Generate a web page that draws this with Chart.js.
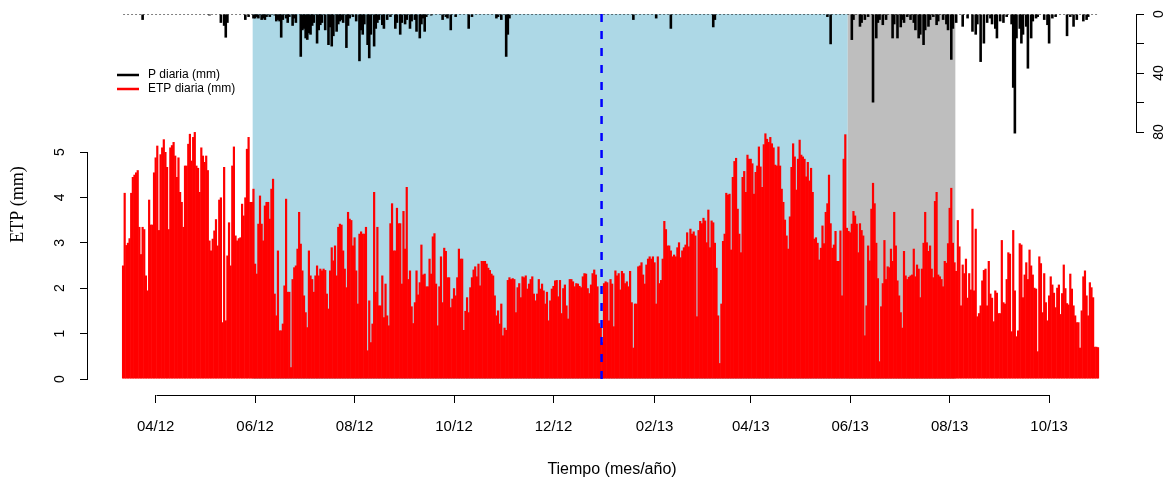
<!DOCTYPE html>
<html>
<head>
<meta charset="utf-8">
<script src="https://cdn.jsdelivr.net/npm/chart.js@4.4.0/dist/chart.umd.min.js"></script>
<style>
  html, body { margin: 0; padding: 0; background: #fff; }
</style>
</head>
<body>
<canvas id="etpcanvas" width="1176" height="479"></canvas>
<script>
// first day of the series, one value per day after it
var startDate = '2012-03-12';

// ETP diaria (mm)
var etp = [
  2.5, 4.1, 2.95, 3.0, 3.1, 4.1, 4.45, 4.5, 4.55, 4.6, 3.35, 2.75, 3.35, 3.3, 2.28, 1.95, 3.95, 3.4, 3.4, 4.55,
  4.88, 5.14, 3.28, 4.95, 5.1, 5.28, 5.0, 4.67, 3.3, 5.1, 5.15, 5.22, 4.92, 4.45, 4.88, 4.12, 3.9, 3.35, 4.7, 4.7,
  5.18, 5.4, 4.81, 5.33, 5.44, 4.7, 4.65, 4.12, 5.1, 4.92, 4.78, 4.92, 4.6, 3.05, 2.83, 3.09, 3.27, 3.52, 2.94, 3.95,
  4.0, 1.25, 4.67, 1.29, 2.72, 3.45, 2.5, 4.7, 5.12, 3.16, 3.05, 3.1, 3.12,
  3.86, 3.6, 4.0, 5.07, 5.33, 3.9, 3.9, 4.19, 2.54, 2.32, 3.42, 4.04, 3.42, 3.05, 3.82, 3.9, 3.9, 3.53, 4.19, 4.41,
  1.88, 1.4, 2.83, 1.07, 1.07, 1.22, 2.06, 3.97, 1.92, 1.92, 0.26, 2.2, 2.46, 2.5, 2.87, 3.68, 2.98, 2.39, 1.84, 1.47,
  1.14, 2.83, 2.28, 2.2, 1.92, 2.28, 2.5, 2.28, 2.43, 2.39, 2.43, 2.4, 1.88, 1.55, 2.39, 2.9, 2.61, 2.94, 2.28, 3.35,
  3.42, 3.4, 2.83, 2.43, 2.02, 3.68, 3.53, 3.5, 2.94, 3.12, 2.39, 1.66, 3.2, 3.25, 3.2,
  3.2, 3.35, 0.63, 1.73, 0.81, 1.22, 4.12, 1.92, 3.35, 1.62, 1.62, 2.28, 1.36, 2.1, 1.4, 1.18, 3.43, 3.87, 2.83, 2.83,
  3.77, 3.43, 3.43, 2.1, 3.7, 2.87, 4.23, 2.2, 2.39, 1.6, 1.23, 1.69, 2.39, 1.86, 2.13, 2.96, 2.3, 2.32, 2.04, 2.04,
  2.65, 2.32, 3.14, 3.21, 2.1, 1.18, 2.04, 2.7, 1.69, 2.89, 2.82, 2.24, 2.24, 1.58, 1.77, 2.0, 1.84, 2.24, 2.87, 2.65,
  2.65, 1.08, 1.5, 1.8, 1.47, 2.02, 2.24, 2.41, 2.48, 2.26, 2.54, 2.06, 2.6, 2.6, 2.6,
  2.54, 2.45, 2.4, 2.32, 2.28, 1.84, 1.4, 1.51, 1.22, 1.66, 0.96, 1.13, 1.08, 2.18, 2.24, 2.2, 2.22, 2.2, 1.47, 2.02,
  2.11, 1.8, 2.26, 2.24, 2.28, 1.99, 2.1, 2.2, 2.26, 1.88, 1.73, 1.88, 2.2, 1.99, 2.1, 1.95, 1.66, 1.92, 1.29, 1.73,
  1.99, 2.05, 2.17, 2.18, 1.82, 2.18, 1.45, 2.0, 2.08, 1.62, 1.33, 2.2, 2.2, 2.15, 2.04, 2.11, 2.1, 2.05, 2.02, 2.26,
  2.33, 2.32, 2.0, 1.89, 2.08, 2.33, 2.41, 2.3, 2.04, 1.23, 1.14, 0.81, 2.11, 2.15, 2.13,
  1.29, 2.2, 2.1, 1.16, 2.39, 2.28, 2.33, 1.97, 2.38, 2.33, 2.11, 2.15, 2.04, 2.38, 1.69, 0.69, 1.66, 1.66, 2.48, 2.5,
  2.57, 2.3, 2.1, 2.52, 2.65, 2.7, 2.65, 2.7, 2.57, 1.66, 2.7, 2.11, 2.18, 2.65, 3.48, 3.3, 2.94, 2.94, 2.83, 2.7,
  2.74, 2.7, 2.9, 3.01, 2.68, 2.83, 2.9, 2.96, 3.23, 2.92, 3.31, 3.2, 3.25, 3.16, 1.38, 3.28, 3.48, 3.43, 3.55, 3.49,
  3.01, 3.73, 2.9, 3.49, 3.45, 3.0, 2.45, 1.4, 0.35, 1.66, 3.04, 3.2, 4.1, 4.06, 4.08,
  2.85, 4.45, 4.8, 4.87, 3.75, 3.2, 2.79, 4.45, 4.58, 4.12, 4.94, 4.85, 4.85, 4.75, 4.08, 4.56, 4.7, 5.12, 4.68, 4.23,
  5.17, 5.41, 5.29, 5.22, 5.33, 5.19, 5.1, 4.72, 4.7, 5.12, 4.7, 4.19, 3.9, 3.51, 3.16, 2.87, 3.58, 4.67, 5.19, 4.9,
  4.17, 4.85, 5.27, 4.94, 4.9, 4.85, 4.46, 4.78, 4.37, 4.65, 4.12, 3.09, 3.12, 3.0, 2.63, 2.89, 3.38, 2.99, 3.68, 3.87,
  4.5, 3.43, 2.89, 2.96, 3.26, 2.6, 2.6, 3.27, 1.84, 4.85, 5.39, 3.33, 3.26, 3.23, 3.42,
  3.7, 3.6, 3.42, 2.79, 3.43, 3.28, 3.16, 0.96, 1.62, 2.94, 2.61, 3.75, 4.32, 3.87, 3.0, 2.22, 0.39, 1.6, 2.11, 3.06,
  2.2, 2.48, 2.46, 2.87, 2.6, 3.68, 2.94, 2.17, 1.84, 1.47, 1.13, 2.82, 2.28, 2.2, 2.25, 2.28, 2.3, 2.87, 2.26, 2.52,
  2.43, 1.8, 2.43, 3.0, 3.68, 3.01, 2.82, 2.94, 2.43, 2.24, 3.92, 4.12, 2.3, 2.26, 2.2, 2.04, 2.6, 2.56, 2.99, 3.77,
  4.21, 3.0, 2.57, 2.38, 3.5, 2.92, 1.62, 2.52, 2.33, 2.65, 1.79, 2.33, 1.97, 3.75, 1.95,
  3.31, 1.38, 1.45, 1.62, 2.17, 2.4, 2.43, 1.62, 2.6, 1.88, 1.79, 1.27, 1.95, 1.9, 1.45, 1.45, 3.06, 1.69, 1.66, 2.2,
  2.79, 2.76, 1.05, 3.28, 1.95, 0.94, 1.07, 2.99, 2.96, 1.8, 2.3, 2.57, 2.2, 2.85, 2.5, 2.3, 2.01, 1.99, 0.61, 2.7,
  2.55, 1.47, 2.33, 1.69, 1.29, 1.84, 2.26, 2.08, 1.9, 1.58, 2.01, 2.08, 1.43, 1.89, 2.52, 2.0, 1.67, 1.64, 2.32, 1.99,
  1.62, 1.4, 1.25, 1.25, 0.69, 1.51, 2.26, 2.39, 1.84, 1.4, 2.13, 2.02, 1.8, 0.71, 0.71, 0.7
];

// P diaria (mm): day number (from startDate) and amount, rainy days only
var precipDay = [
  12, 53, 60, 62, 63, 64, 75, 77, 80, 81, 82, 83, 85, 86, 87, 88, 90, 93, 94, 95,
  96, 97, 98, 100, 101, 102, 104, 105, 106, 109, 110, 111, 112, 113, 114, 115, 116, 117, 119, 120,
  121, 122, 124, 126, 127, 128, 129, 131, 132, 133, 134, 135, 137, 138, 139, 141, 143, 145, 146, 147,
  148, 150, 151, 152, 154, 155, 156, 157, 159, 160, 162, 164, 167, 168, 170, 171, 173, 174, 176, 177,
  179, 180, 182, 183, 184, 185, 186, 189, 196, 198, 199, 201, 204, 212, 214, 229, 230, 232, 235, 236,
  237, 313, 327, 336, 362, 363, 432, 434, 447, 448, 452, 453, 455, 457, 460, 462, 463, 464, 466, 468,
  472, 473, 475, 477, 478, 479, 481, 483, 485, 486, 488, 489, 491, 492, 494, 495, 497, 499, 500, 503,
  505, 506, 508, 509, 511, 515, 518, 521, 523, 524, 526, 528, 530, 532, 533, 535, 536, 538, 540, 542,
  545, 546, 547, 548, 550, 551, 552, 554, 555, 557, 558, 560, 561, 565, 567, 568, 570, 572, 579, 581,
  583, 585, 589, 591, 592
];
var precipMm = [
  4, 1, 6, 8, 16, 6, 4, 2, 3, 3, 2, 3, 4, 3, 4, 2, 2, 1, 5, 4,
  5, 16, 4, 3, 6, 2, 8, 3, 6, 29, 11, 10, 16.5, 17.5, 13, 14, 8, 6, 20, 11,
  7.5, 6, 11, 21, 9, 22, 15, 12, 7, 5, 4, 6, 23, 8, 3, 2, 5, 32, 11, 14,
  7, 21, 30, 14, 22, 10, 6, 4, 7.5, 10, 4, 2, 10, 6, 14, 6, 7, 4, 10, 5,
  4, 12, 16.5, 7, 3, 12, 2, 1, 4, 2, 3, 11, 2, 10, 2, 3, 2, 4, 29, 14,
  3, 4, 3, 10, 9, 4, 2, 20.5, 17.6, 4, 8.6, 6, 4, 2, 60, 16.5, 6, 4, 7.5, 4,
  16.5, 7, 16.5, 9, 4, 6, 2, 4, 6, 11, 16.5, 14, 21, 11, 8.6, 4, 2, 7.5, 5, 4,
  7, 11, 31, 10, 6, 8.6, 3, 12, 14, 7, 32.5, 20, 6, 3, 7, 10, 16.5, 5, 6, 2,
  7, 50, 81, 16.5, 10, 20, 14, 8.6, 37, 16.5, 5, 3, 2, 4, 7.5, 20, 3, 2, 15, 2,
  8.6, 4, 5, 4, 2
];

// x axis ticks
var tickDates = ['2012-04-01', '2012-06-01', '2012-08-01', '2012-10-01', '2012-12-01',
                 '2013-02-01', '2013-04-01', '2013-06-01', '2013-08-01', '2013-10-01'];
var tickLabels = ['04/12', '06/12', '08/12', '10/12', '12/12', '02/13', '04/13', '06/13', '08/13', '10/13'];
var etpTicks = [0, 1, 2, 3, 4, 5];
var precipTicks = [0, 20, 40, 60, 80];
var precipTickLabels = ['0', '', '40', '', '80'];

// shaded periods and the marker line
var periodStart = ['2012-05-31', '2013-05-31'];
var periodEnd = ['2013-05-30', '2013-08-04'];
var periodColor = ['#add8e6', '#bebebe'];
var markerDate = '2012-12-31';

function dayIndex(d) {
  return Math.round((Date.parse(d) - Date.parse(startDate)) / 86400000);
}

var etpPoints = etp.map(function (v, i) { return { x: i, y: v }; });
var precipPoints = precipDay.map(function (d, i) { return { x: d, y: precipMm[i] }; });
var zeroLine = [{ x: 0, y: 0 }, { x: etp.length - 1, y: 0 }];

var sans = 'Liberation Sans, Arial, sans-serif';
var serif = 'Liberation Serif, Times New Roman, serif';
Chart.defaults.font.family = sans;

function noPadding(s) {
  s.paddingTop = 0; s.paddingBottom = 0; s.paddingLeft = 0; s.paddingRight = 0;
}

// shaded periods behind the bars, dashed marker over them
var shading = {
  id: 'shading',
  beforeDatasetsDraw: function (chart) {
    var c = chart.ctx, x = chart.scales.x, y = chart.scales.y;
    var top = chart.chartArea.top, bottom = y.getPixelForValue(0);
    c.save();
    for (var i = 0; i < periodStart.length; i++) {
      var x0 = x.getPixelForValue(dayIndex(periodStart[i]) - 0.5);
      var x1 = x.getPixelForValue(dayIndex(periodEnd[i]) + 0.5);
      c.fillStyle = periodColor[i];
      c.fillRect(x0, top, x1 - x0, bottom - top);
    }
    c.restore();
  },
  afterDatasetsDraw: function (chart) {
    var c = chart.ctx, x = chart.scales.x, y = chart.scales.y;
    var xm = x.getPixelForValue(dayIndex(markerDate) - 0.5);
    c.save();
    c.strokeStyle = '#0000ff';
    c.lineWidth = 2.5;
    c.setLineDash([8, 9]);
    c.beginPath();
    c.moveTo(xm, chart.chartArea.top);
    c.lineTo(xm, y.getPixelForValue(0));
    c.stroke();
    c.restore();
  }
};

// R style axis lines (first tick to last tick) and the legend
var axisLines = {
  id: 'axisLines',
  afterDraw: function (chart) {
    var c = chart.ctx, x = chart.scales.x, y = chart.scales.y, p = chart.scales.yP;
    c.save();
    c.strokeStyle = '#000';
    c.lineWidth = 1;
    c.beginPath();
    var xa = Math.round(x.getPixelForValue(x.ticks[0].value)) + 0.5;
    var xb = Math.round(x.getPixelForValue(x.ticks[x.ticks.length - 1].value)) + 0.5;
    c.moveTo(xa, x.top + 0.5); c.lineTo(xb, x.top + 0.5);
    var ya = Math.round(y.getPixelForValue(etpTicks[0])) + 0.5;
    var yb = Math.round(y.getPixelForValue(etpTicks[etpTicks.length - 1])) + 0.5;
    c.moveTo(y.right - 0.5, ya); c.lineTo(y.right - 0.5, yb);
    var pa = Math.round(p.getPixelForValue(precipTicks[0])) + 0.5;
    var pb = Math.round(p.getPixelForValue(precipTicks[precipTicks.length - 1])) + 0.5;
    c.moveTo(p.left + 0.5, pa); c.lineTo(p.left + 0.5, pb);
    c.stroke();

    // legend
    var ds = chart.data.datasets;
    c.font = '12px ' + sans;
    c.textBaseline = 'middle';
    c.lineWidth = 2.5;
    for (var i = 0; i < 2; i++) {
      var ly = 75 + i * 14;
      c.strokeStyle = ds[i].backgroundColor;
      c.beginPath();
      c.moveTo(117, ly); c.lineTo(139, ly);
      c.stroke();
      c.fillStyle = '#000';
      c.fillText(ds[i].label, 148, ly);
    }
    c.restore();
  }
};

var ctx = document.getElementById('etpcanvas');
var etpChart = new Chart(ctx, {
  type: 'bar',
  data: {
    datasets: [
      {
        label: 'P diaria (mm)',
        data: precipPoints,
        backgroundColor: '#000000',
        yAxisID: 'yP',
        grouped: false,
        barPercentage: 1.6,
        categoryPercentage: 1
      },
      {
        label: 'ETP diaria (mm)',
        data: etpPoints,
        backgroundColor: '#ff0000',
        yAxisID: 'y',
        grouped: false,
        barPercentage: 1.35,
        categoryPercentage: 1
      },
      {
        type: 'line',
        label: 'cero',
        data: zeroLine,
        yAxisID: 'yP',
        borderColor: '#000000',
        borderWidth: 1,
        borderDash: [2, 2],
        pointRadius: 0
      }
    ]
  },
  options: {
    responsive: false,
    animation: false,
    layout: { padding: { top: 14, left: 0, right: 0, bottom: 0 } },
    plugins: {
      legend: { display: false },
      tooltip: { enabled: false }
    },
    scales: {
      x: {
        type: 'linear',
        position: 'bottom',
        offset: false,
        min: -21.5,
        max: 621.3,
        afterBuildTicks: function (s) {
          s.ticks = tickDates.map(function (d) { return { value: dayIndex(d) }; });
        },
        afterFit: function (s) { s.height = 84; noPadding(s); },
        ticks: {
          autoSkip: false,
          maxRotation: 0,
          padding: 15,
          color: '#000',
          font: { size: 15 },
          callback: function (v, i) { return tickLabels[i]; }
        },
        grid: { display: true, offset: false, drawOnChartArea: false, drawTicks: true, tickLength: 8, color: '#000' },
        border: { display: false },
        title: {
          display: true,
          text: 'Tiempo (mes/año)',
          color: '#000',
          font: { size: 16 },
          padding: { top: 0, bottom: 0 }
        }
      },
      y: {
        position: 'left',
        min: -0.352,
        max: 8.04,
        afterBuildTicks: function (s) {
          s.ticks = etpTicks.map(function (v) { return { value: v }; });
        },
        afterFit: function (s) { s.width = 88; noPadding(s); },
        ticks: {
          minRotation: 90,
          maxRotation: 90,
          crossAlign: 'center',
          padding: 16,
          color: '#000',
          font: { size: 14 }
        },
        grid: { display: true, drawOnChartArea: false, drawTicks: true, tickLength: 8, color: '#000' },
        border: { display: false },
        title: {
          display: true,
          text: 'ETP (mm)',
          color: '#000',
          font: { family: serif, size: 18 },
          padding: { top: 7, bottom: 0 }
        }
      },
      yP: {
        position: 'right',
        reverse: true,
        min: 0,
        max: 258.3,
        afterBuildTicks: function (s) {
          s.ticks = precipTicks.map(function (v) { return { value: v }; });
        },
        afterFit: function (s) { s.width = 40; noPadding(s); },
        ticks: {
          minRotation: 90,
          maxRotation: 90,
          crossAlign: 'center',
          autoSkip: false,
          padding: 7,
          color: '#000',
          font: { size: 14 },
          callback: function (v, i) { return precipTickLabels[i]; }
        },
        grid: { display: true, drawOnChartArea: false, drawTicks: true, tickLength: 8, color: '#000' },
        border: { display: false }
      }
    }
  },
  plugins: [shading, axisLines]
});
</script>
</body>
</html>
